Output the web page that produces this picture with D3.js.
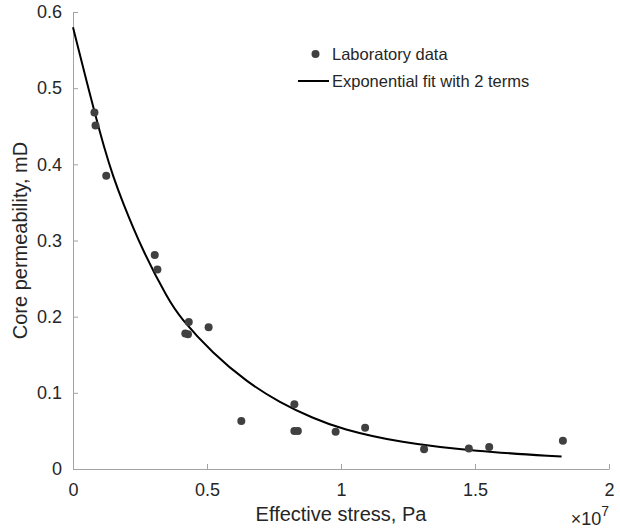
<!DOCTYPE html>
<html>
<head>
<meta charset="utf-8">
<script src="https://cdn.jsdelivr.net/npm/d3@7"></script>
<style>
	body { margin: 0; background: #fff; }
	svg { display: block; font-family: "Liberation Sans", Arial, sans-serif; }
</style>
</head>
<body>
<svg width="620" height="529"></svg>
<script>
// laboratory measurements (stress in Pa, permeability in mD)
const labStress = [
	0.80e6, 0.84e6, 1.24e6, 3.05e6, 3.15e6, 4.32e6, 4.19e6, 4.29e6, 5.06e6,
	6.28e6, 8.26e6, 8.26e6, 8.39e6, 9.80e6, 10.9e6, 13.1e6, 14.77e6, 15.53e6, 18.28e6,
];
const labPerm = [
	0.468, 0.451, 0.385, 0.281, 0.262, 0.193, 0.178, 0.177, 0.186,
	0.063, 0.085, 0.050, 0.050, 0.049, 0.054, 0.026, 0.027, 0.029, 0.037,
];

// fitted curve
const fitStress = [
	0, 0.07e7, 0.119e7, 0.15e7, 0.182e7, 0.259e7, 0.356e7, 0.399e7, 0.5235e7,
	0.648e7, 0.772e7, 0.897e7, 1.0e7, 1.22e7, 1.5e7, 1.823e7,
];
const fitPerm = [
	0.580, 0.482, 0.418, 0.384, 0.353, 0.287, 0.222, 0.199, 0.151,
	0.1145, 0.087, 0.0665, 0.0525, 0.0345, 0.0233, 0.0163,
];

const xTicks = [0, 0.5e7, 1e7, 1.5e7, 2e7];
const yTicks = [0, 0.1, 0.2, 0.3, 0.4, 0.5, 0.6];

const svg = d3.select("svg");
const plotLeft = 73, plotRight = 609, plotTop = 12, plotBottom = 469;
const axisColor = "#a3a3a3";
const textColor = "#262626";

const xScale = d3.scaleLinear().domain([0, 2e7]).range([plotLeft, plotRight]);
const yScale = d3.scaleLinear().domain([0, 0.6]).range([plotBottom, plotTop]);

svg.append("rect").attr("width", 620).attr("height", 529).attr("fill", "#fff");

// x axis (ticks inward, like matlab)
const gx = svg
	.append("g")
	.attr("transform", "translate(0," + plotBottom + ")")
	.call(
		d3.axisBottom(xScale)
			.tickValues(xTicks)
			.tickSizeInner(-5)
			.tickSizeOuter(0)
			.tickPadding(14)
			.tickFormat((d) => d / 1e7)
	);
gx.select(".domain").attr("stroke", axisColor);
gx.selectAll(".tick line").attr("stroke", axisColor);
gx.selectAll(".tick text")
	.attr("fill", textColor)
	.attr("font-size", "18px")
	.attr("font-family", "Liberation Sans, Arial, sans-serif");

const gy = svg
	.append("g")
	.attr("transform", "translate(" + plotLeft + ",0)")
	.call(
		d3.axisLeft(yScale)
			.tickValues(yTicks)
			.tickSizeInner(-5)
			.tickSizeOuter(0)
			.tickPadding(11)
			.tickFormat((d) => d)
	);
gy.select(".domain").attr("stroke", axisColor);
gy.selectAll(".tick line").attr("stroke", axisColor);
gy.selectAll(".tick text")
	.attr("fill", textColor)
	.attr("font-size", "18px")
	.attr("font-family", "Liberation Sans, Arial, sans-serif");

// axis titles
svg.append("text")
	.attr("x", (plotLeft + plotRight) / 2)
	.attr("y", 521)
	.attr("text-anchor", "middle")
	.attr("font-size", "20px")
	.attr("fill", textColor)
	.text("Effective stress, Pa");

svg.append("text")
	.attr("transform", "translate(27," + (plotTop + plotBottom) / 2 + ") rotate(-90)")
	.attr("text-anchor", "middle")
	.attr("font-size", "20px")
	.attr("fill", textColor)
	.text("Core permeability, mD");

// exponent label
const expo = svg.append("text")
	.attr("x", plotRight)
	.attr("y", 525)
	.attr("text-anchor", "end")
	.attr("font-size", "18px")
	.attr("fill", textColor);
expo.append("tspan").text("\u00d710");
expo.append("tspan").attr("dy", -9).attr("font-size", "14px").text("7");

// fitted curve
const fitData = fitStress.map((s, i) => ({ x: s, y: fitPerm[i] }));
svg.append("path")
	.datum(fitData)
	.attr("fill", "none")
	.attr("stroke", "#000")
	.attr("stroke-width", 2)
	.attr("d", d3.line()
		.x((d) => xScale(d.x))
		.y((d) => yScale(d.y))
		.curve(d3.curveBasis));

// lab points
svg.append("g")
	.selectAll("circle")
	.data(labStress.map((s, i) => ({ x: s, y: labPerm[i] })))
	.join("circle")
	.attr("cx", (d) => xScale(d.x))
	.attr("cy", (d) => yScale(d.y))
	.attr("r", 4)
	.attr("fill", "#404040");

// legend
const legend = svg.append("g");
legend.append("circle").attr("cx", 315.5).attr("cy", 54).attr("r", 4).attr("fill", "#404040");
legend.append("text")
	.attr("x", 332)
	.attr("y", 60)
	.attr("font-size", "16.5px")
	.attr("fill", textColor)
	.text("Laboratory data");
legend.append("line")
	.attr("x1", 298).attr("x2", 329)
	.attr("y1", 81).attr("y2", 81)
	.attr("stroke", "#000").attr("stroke-width", 2);
legend.append("text")
	.attr("x", 332)
	.attr("y", 87)
	.attr("font-size", "16.5px")
	.attr("fill", textColor)
	.text("Exponential fit with 2 terms");
</script>
</body>
</html>
